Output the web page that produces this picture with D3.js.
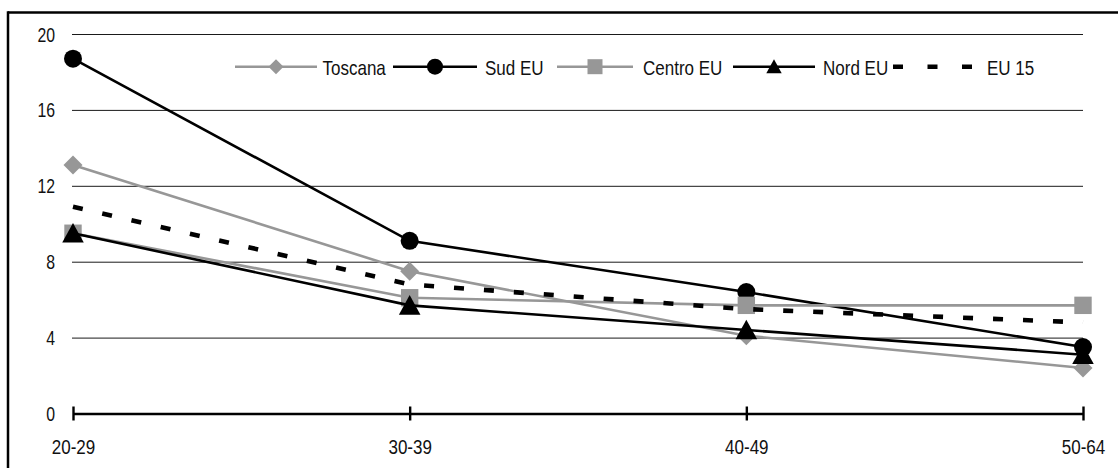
<!DOCTYPE html>
<html>
<head>
<meta charset="utf-8">
<script src="https://cdn.jsdelivr.net/npm/d3@7/dist/d3.min.js"></script>
<style>
  html, body { margin: 0; padding: 0; background: #fff; }
  svg { display: block; }
  text { font-family: "Liberation Sans", Arial, sans-serif; fill: #111; }
</style>
</head>
<body>
<svg id="chart" width="1118" height="468"></svg>
<script>
// Age groups on the x axis
const categories = ["20-29", "30-39", "40-49", "50-64"];

// Series values per age group
const toscana = [13.1, 7.5, 4.1, 2.4];
const sudEU   = [18.7, 9.1, 6.4, 3.5];
const centroEU = [9.5, 6.1, 5.7, 5.7];
const nordEU  = [9.5, 5.7, 4.4, 3.1];
const eu15    = [10.9, 6.8, 5.5, 4.8];

const seriesNames = ["Toscana", "Sud EU", "Centro EU", "Nord EU", "EU 15"];

// y axis tick labels
const yTicks = [0, 4, 8, 12, 16, 20];

const GRAY = "#979797";
const BLACK = "#000";
const SX = 0.81; // horizontal squeeze of the lettering

const svg = d3.select("#chart");

// Frame: top and left rules
svg.append("line").attr("x1", 8).attr("x2", 1118).attr("y1", 12.5).attr("y2", 12.5)
  .attr("stroke", "#000").attr("stroke-width", 2.5);
svg.append("line").attr("x1", 8).attr("x2", 8).attr("y1", 11.3).attr("y2", 468)
  .attr("stroke", "#000").attr("stroke-width", 2.5);

const x = d3.scalePoint().domain(categories).range([73, 1083]);
const y = d3.scaleLinear().domain([0, 20]).range([413.5, 34]);

// Horizontal gridlines
const grid = svg.append("g").attr("transform", "translate(72,0)")
  .call(d3.axisLeft(y).tickValues(yTicks.filter(v => v > 0)).tickSize(-(1083 - 72)).tickFormat(""));
grid.select(".domain").remove();
grid.selectAll(".tick line").attr("stroke", "#1a1a1a").attr("stroke-width", 1);

// y labels
const yLab = svg.append("g").attr("transform", "translate(72,0)")
  .call(d3.axisLeft(y).tickValues(yTicks).tickSize(0).tickPadding(17));
yLab.select(".domain").remove();
yLab.selectAll(".tick text")
  .attr("transform", function () { return `translate(${d3.select(this).attr("x")},7) scale(${SX},1)`; })
  .attr("x", 0).attr("dy", 0)
  .style("font-size", "19.5px").style("font-family", "Liberation Sans, Arial, sans-serif").attr("fill", "#111");

// x axis with through-ticks
const xAx = svg.append("g").attr("transform", `translate(0,${y(0)})`)
  .call(d3.axisBottom(x).tickSize(7).tickSizeOuter(0));
xAx.select(".domain").attr("stroke", "#000").attr("stroke-width", 2.6);
xAx.selectAll(".tick line").attr("y1", -7).attr("y2", 7).attr("stroke", "#000").attr("stroke-width", 2.4);
xAx.selectAll(".tick text")
  .attr("transform", `translate(0,40.5) scale(${SX},1)`)
  .attr("y", 0).attr("dy", 0)
  .style("font-size", "21px").style("font-family", "Liberation Sans, Arial, sans-serif").attr("fill", "#111");

// Marker shapes
const markerPath = {
  diamond: s => `M0,${-s}L${s},0L0,${s}L${-s},0Z`,
  square: s => `M${-s},${-s}H${s}V${s}H${-s}Z`,
  triangle: s => `M0,${-s * 1.05}L${s * 1.1},${s * 0.95}L${-s * 1.1},${s * 0.95}Z`
};

const series = [
  { name: seriesNames[0], values: toscana, color: GRAY, marker: "diamond", size: 9.5, lsize: 7.5 },
  { name: seriesNames[1], values: sudEU, color: BLACK, marker: "circle", size: 9, lsize: 8 },
  { name: seriesNames[2], values: centroEU, color: GRAY, marker: "square", size: 8.7, lsize: 7.5 },
  { name: seriesNames[3], values: nordEU, color: BLACK, marker: "triangle", size: 9.8, lsize: 7 },
  { name: seriesNames[4], values: eu15, color: BLACK, marker: null, dashed: true }
];

function drawMarker(g, type, cx, cy, s, color) {
  if (type === "circle") {
    g.append("circle").attr("cx", cx).attr("cy", cy).attr("r", s).attr("fill", color);
  } else if (type) {
    g.append("path").attr("d", markerPath[type](s)).attr("transform", `translate(${cx},${cy})`).attr("fill", color);
  }
}

const line = d3.line().x((d, i) => x(categories[i])).y(d => y(d));

const plot = svg.append("g");
series.forEach(s => {
  const g = plot.append("g");
  g.append("path").datum(s.values).attr("d", line)
    .attr("fill", "none").attr("stroke", s.color)
    .attr("stroke-width", s.dashed ? 4.6 : 2.6)
    .attr("stroke-dasharray", s.dashed ? "10,20" : null);
  if (s.marker) {
    s.values.forEach((v, i) => drawMarker(g, s.marker, x(categories[i]), y(v), s.size, s.color));
  }
});

// Legend
const legendY = 66.7;
const legendItems = [
  { x0: 235, x1: 317, tx: 322.5 },
  { x0: 393, x1: 477, tx: 485 },
  { x0: 557, x1: 633, tx: 643 },
  { x0: 733, x1: 815, tx: 823 },
  { x0: 893, x1: 973, tx: 987 }
];
const legend = svg.append("g");
series.forEach((s, i) => {
  const it = legendItems[i];
  legend.append("line").attr("x1", it.x0).attr("x2", it.x1).attr("y1", legendY).attr("y2", legendY)
    .attr("stroke", s.color).attr("stroke-width", s.dashed ? 4.6 : 2.6)
    .attr("stroke-dasharray", s.dashed ? "10,24.5" : null);
  if (s.marker) drawMarker(legend, s.marker, (it.x0 + it.x1) / 2, legendY, s.lsize, s.color);
  legend.append("text")
    .attr("transform", `translate(${it.tx},${legendY + 8}) scale(${SX},1)`)
    .style("font-size", "21px")
    .text(s.name);
});
</script>
</body>
</html>
